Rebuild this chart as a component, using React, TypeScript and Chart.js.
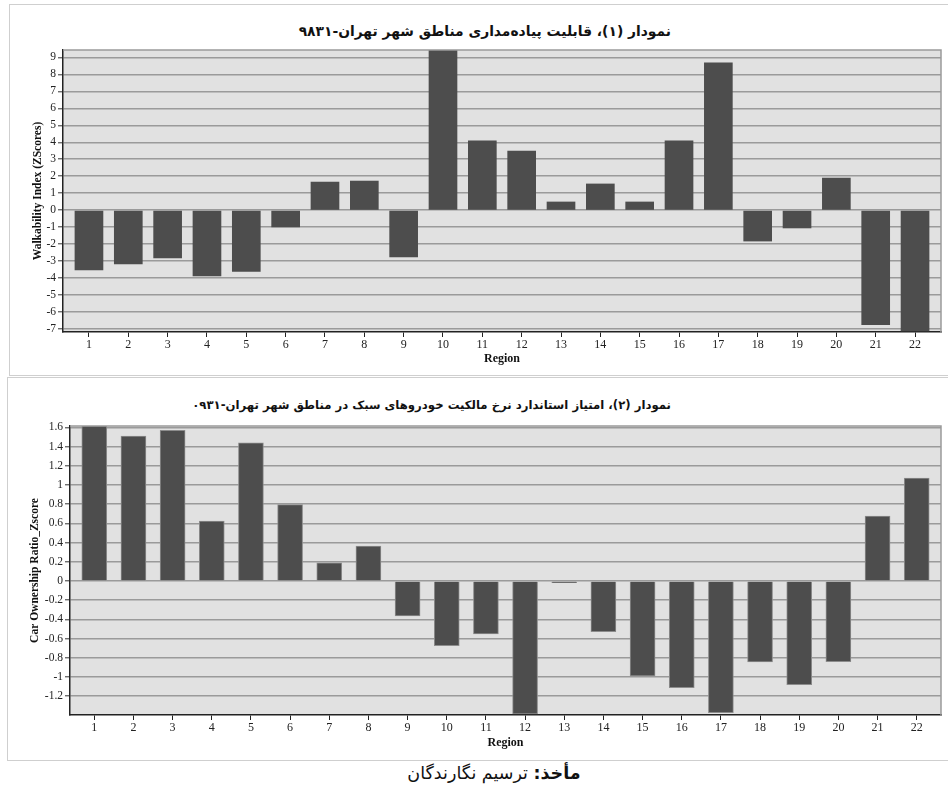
import React, { useEffect, useRef } from "react";
import { Chart, registerables } from "chart.js";

Chart.register(...registerables);

const regions = [1, 2, 3, 4, 5, 6, 7, 8, 9, 10, 11, 12, 13, 14, 15, 16, 17, 18, 19, 20, 21, 22];
const walkability = [-3.51, -3.16, -2.8, -3.86, -3.59, -0.98, 1.66, 1.72, -2.75, 9.5, 4.08, 3.49, 0.49, 1.55, 0.49, 4.08, 8.68, -1.81, -1.04, 1.9, -6.73, -7.1];
const carOwnership = [1.62, 1.51, 1.57, 0.625, 1.44, 0.795, 0.19, 0.365, -0.365, -0.674, -0.552, -1.385, -0.018, -0.528, -0.99, -1.11, -1.372, -0.844, -1.08, -0.84, 0.677, 1.073];
const walkTicks = [9, 8, 7, 6, 5, 4, 3, 2, 1, 0, -1, -2, -3, -4, -5, -6, -7];
const carTicks = [1.6, 1.4, 1.2, 1, 0.8, 0.6, 0.4, 0.2, 0, -0.2, -0.4, -0.6, -0.8, -1, -1.2];

const title1 = "نمودار (۱)، قابلیت پیاده‌مداری مناطق شهر تهران-۹۸۳۱";
const title2 = "نمودار (۲)، امتیاز استاندارد نرخ مالکیت خودروهای سبک در مناطق شهر تهران-۰۹۳۱";
const yTitle1 = "Walkability Index (ZScores)";
const yTitle2 = "Car Ownership Ratio_Zscore";
const xTitle = "Region";

const SERIF = "'Liberation Serif', 'DejaVu Serif', serif";

const plotFrame = {
  id: "plotFrame",
  beforeDraw(chart: any) {
    const { ctx, chartArea } = chart;
    const { left, top, right, bottom } = chartArea;
    ctx.save();
    ctx.fillStyle = "#e1e1e1";
    ctx.fillRect(left, top, right - left, bottom - top);
    ctx.restore();
  },
  afterDraw(chart: any) {
    const { ctx, chartArea } = chart;
    const { left, top, right, bottom } = chartArea;
    ctx.save();
    ctx.strokeStyle = "#9a9a9a";
    ctx.lineWidth = 1.5;
    ctx.beginPath();
    ctx.moveTo(left, top);
    ctx.lineTo(right, top);
    ctx.lineTo(right, bottom);
    ctx.stroke();
    ctx.restore();
  },
};

interface PanelProps {
  values: number[];
  ticks: number[];
  yMin: number;
  yMax: number;
  xMin: number;
  xMax: number;
  barThickness: number;
  yAxisWidth: number;
  xAxisHeight: number;
  topPad: number;
  yTitle: string;
  yTitlePad: number;
  xTitlePad: number;
  borderWidth: number;
}

function BarPanel(p: PanelProps) {
  const ref = useRef<HTMLCanvasElement | null>(null);
  useEffect(() => {
    if (!ref.current) return;
    const chart = new Chart(ref.current, {
      type: "bar",
      data: {
        datasets: [
          {
            data: regions.map((r, i) => ({ x: r, y: p.values[i] })),
            backgroundColor: "#4d4d4d",
            borderColor: "#8c8c8c",
            borderWidth: p.borderWidth,
            barThickness: p.barThickness,
          } as any,
        ],
      },
      options: {
        animation: false,
        responsive: true,
        maintainAspectRatio: false,
        layout: { padding: { top: p.topPad, right: 4, left: 0, bottom: 0 } },
        plugins: { legend: { display: false }, tooltip: { enabled: false }, title: { display: false } },
        scales: {
          x: {
            type: "linear",
            offset: false,
            min: p.xMin,
            max: p.xMax,
            afterBuildTicks: (scale: any) => {
              scale.ticks = regions.map((v) => ({ value: v }));
            },
            afterFit: (scale: any) => {
              scale.height = p.xAxisHeight;
            },
            ticks: {
              autoSkip: false,
              maxRotation: 0,
              padding: 1,
              color: "#222",
              font: { family: SERIF, size: 12 },
              callback: (v: any) => String(v),
            },
            grid: {
              display: true,
              offset: false,
              drawOnChartArea: false,
              drawTicks: true,
              tickLength: 5,
              tickColor: "#222",
              tickWidth: 1,
            },
            border: { display: true, color: "#222", width: 1.5 },
            title: {
              display: true,
              text: xTitle,
              color: "#111",
              font: { family: SERIF, size: 12, weight: "bold" },
              padding: { top: 0, bottom: p.xTitlePad },
            },
          },
          y: {
            type: "linear",
            min: p.yMin,
            max: p.yMax,
            afterBuildTicks: (scale: any) => {
              scale.ticks = p.ticks.map((v) => ({ value: v }));
            },
            afterFit: (scale: any) => {
              scale.width = p.yAxisWidth;
            },
            ticks: {
              autoSkip: false,
              padding: 2,
              color: "#222",
              font: { family: SERIF, size: 11.5 },
              callback: (v: any) => String(Math.round(Number(v) * 10) / 10),
            },
            grid: {
              display: true,
              color: "#9a9a9a",
              lineWidth: 1.6,
              drawTicks: true,
              tickLength: 5,
              tickColor: "#333",
              tickWidth: 1,
            },
            border: { display: true, color: "#222", width: 1.5 },
            title: {
              display: true,
              text: p.yTitle,
              color: "#111",
              font: { family: SERIF, size: 11.5, weight: "bold" },
              padding: { top: p.yTitlePad, bottom: 0 },
            },
          },
        },
      } as any,
      plugins: [plotFrame],
    });
    return () => chart.destroy();
  }, []);
  return <canvas ref={ref} />;
}

const titleStyle: React.CSSProperties = {
  position: "absolute",
  right: 948 - 671,
  fontFamily: "'DejaVu Sans', sans-serif",
  fontWeight: "bold",
  lineHeight: "20px",
  whiteSpace: "nowrap",
  color: "#111",
};

export default function App() {
  return (
    <div style={{ position: "absolute", left: 0, top: 0, width: 948, height: 795, background: "#fff", overflow: "hidden" }}>
      <div style={{ position: "absolute", left: 9, top: 4, width: 960, height: 372, border: "1.5px solid #cfcfcf", boxSizing: "border-box" }} />
      <div style={{ position: "absolute", left: 7, top: 377, width: 960, height: 384, border: "1.5px solid #cfcfcf", boxSizing: "border-box" }} />

      <div dir="rtl" style={{ ...titleStyle, top: 21, fontSize: 13.85 }}>{title1}</div>
      <div dir="rtl" style={{ ...titleStyle, top: 395, fontSize: 11.7 }}>{title2}</div>

      <div style={{ position: "absolute", left: 9, top: 4, width: 936, height: 372 }}>
        <BarPanel
          values={walkability}
          ticks={walkTicks}
          yMin={-7.16}
          yMax={9.43}
          xMin={0.34}
          xMax={22.66}
          barThickness={28}
          yAxisWidth={54}
          xAxisHeight={44}
          topPad={46}
          yTitle={yTitle1}
          yTitlePad={22}
          xTitlePad={10}
          borderWidth={0}
        />
      </div>
      <div style={{ position: "absolute", left: 7, top: 377, width: 938, height: 384 }}>
        <BarPanel
          values={carOwnership}
          ticks={carTicks}
          yMin={-1.396}
          yMax={1.615}
          xMin={0.38}
          xMax={22.62}
          barThickness={25}
          yAxisWidth={63}
          xAxisHeight={46}
          topPad={49}
          yTitle={yTitle2}
          yTitlePad={21}
          xTitlePad={11}
          borderWidth={1}
        />
      </div>

      <div
        dir="rtl"
        style={{
          position: "absolute",
          left: 294,
          width: 400,
          top: 762,
          textAlign: "center",
          fontFamily: "'DejaVu Sans', sans-serif",
          fontSize: 17.5,
          lineHeight: "22px",
          color: "#111",
        }}
      >
        <b>مأخذ:</b> ترسیم نگارندگان
      </div>
    </div>
  );
}
